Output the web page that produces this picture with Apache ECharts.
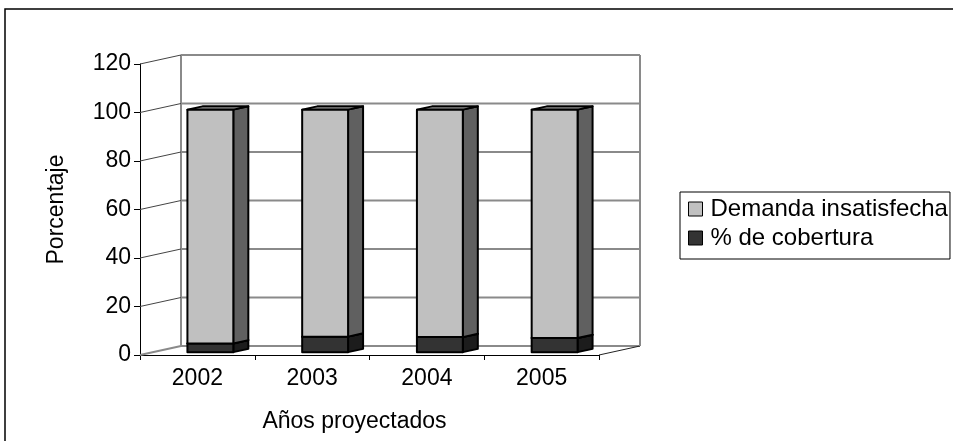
<!DOCTYPE html>
<html>
<head>
<meta charset="utf-8">
<script src="https://cdn.jsdelivr.net/npm/echarts@6/dist/echarts.min.js"></script>
<style>
html,body{margin:0;padding:0;background:#fff;}
#chart{width:953px;height:441px;}
</style>
</head>
<body>
<div id="chart"></div>
<script>
const categories = ['2002', '2003', '2004', '2005'];
const cobertura = [3.6, 6.4, 6.2, 5.8];
const demanda = [96.4, 93.6, 93.8, 94.2];
const yTicks = [0, 20, 40, 60, 80, 100, 120];

const FONT = '"Liberation Sans", Arial, sans-serif';
const DX = 41, DY = -9;           // depth offset of the back wall
const F0 = 0.317, F1 = 0.683;     // bar front/back depth fraction
const BW = 0.4;                   // bar width fraction of band

const chart = echarts.init(document.getElementById('chart'), null, {renderer: 'canvas'});

function wallItem(params, api) {
  const v = api.value(1);
  const bw = api.size([1, 0])[0];
  const p0 = api.coord([0, v]);
  const p3 = api.coord([categories.length - 1, v]);
  const left = p0[0] - bw / 2, right = p3[0] + bw / 2, y = p0[1];
  const children = [];
  children.push({type: 'line', shape: {x1: left + DX, y1: y + DY, x2: right + DX, y2: y + DY},
    style: {stroke: '#8a8a8a', lineWidth: 2}});
  children.push({type: 'line', shape: {x1: left, y1: y, x2: left + DX, y2: y + DY},
    style: {stroke: v === 0 ? '#8a8a8a' : '#444', lineWidth: v === 0 ? 2 : 1}});
  if (v === 0) {
    const top = api.coord([0, yTicks[yTicks.length - 1]])[1];
    children.push({type: 'line', shape: {x1: right, y1: y, x2: right + DX, y2: y + DY},
      style: {stroke: '#222', lineWidth: 1}});
    children.push({type: 'line', shape: {x1: left + DX, y1: y + DY, x2: left + DX, y2: top + DY},
      style: {stroke: '#8a8a8a', lineWidth: 2}});
    children.push({type: 'line', shape: {x1: right + DX, y1: y + DY, x2: right + DX, y2: top + DY},
      style: {stroke: '#8a8a8a', lineWidth: 2}});
  }
  return {type: 'group', children: children};
}

function barRenderer(front, side, topc) {
  return function (params, api) {
    const i = api.value(0);
    const lo = api.coord([i, api.value(1)]);
    const hi = api.coord([i, api.value(2)]);
    const bw = api.size([1, 0])[0];
    const w = bw * BW;
    const xl = lo[0] - w / 2 + F0 * DX, xr = xl + w;
    const yb = lo[1] + F0 * DY, yt = hi[1] + F0 * DY;
    const ddx = (F1 - F0) * DX, ddy = (F1 - F0) * DY;
    const edge = {stroke: '#000', lineWidth: 2, lineJoin: 'round'};
    return {type: 'group', children: [
      {type: 'polygon', shape: {points: [[xr, yt], [xr + ddx, yt + ddy], [xr + ddx, yb + ddy], [xr, yb]]},
        style: Object.assign({fill: side}, edge)},
      {type: 'polygon', shape: {points: [[xl, yt], [xl + ddx, yt + ddy], [xr + ddx, yt + ddy], [xr, yt]]},
        style: Object.assign({fill: topc}, edge)},
      {type: 'rect', shape: {x: xl, y: yt, width: w, height: yb - yt},
        style: Object.assign({fill: front}, edge)}
    ]};
  };
}

const coberturaData = cobertura.map((v, i) => [i, 0, v]);
const demandaData = demanda.map((v, i) => [i, cobertura[i], cobertura[i] + v]);

const option = {
  animation: false,
  backgroundColor: '#fff',
  textStyle: {fontFamily: FONT},
  graphic: [
    {type: 'rect', shape: {x: 5, y: 9, width: 1000, height: 500},
      style: {fill: 'none', stroke: '#000', lineWidth: 1.5}, z: 0}
  ],
  grid: {left: 140, top: 64, width: 459, height: 291, containLabel: false},
  legend: {
    orient: 'vertical', left: 680, top: 192,
    padding: [5, 2, 9, 8], itemGap: 5,
    itemWidth: 14, itemHeight: 14, itemStyle: {borderColor: '#000', borderWidth: 1},
    borderColor: '#000', borderWidth: 1, backgroundColor: '#fff',
    icon: 'rect',
    textStyle: {fontFamily: FONT, fontSize: 24, color: '#000', padding: [0, 0, 0, 3]},
    data: ['Demanda insatisfecha', '% de cobertura']
  },
  xAxis: {
    type: 'category', data: categories, boundaryGap: true,
    axisLine: {lineStyle: {color: '#000', width: 1}},
    axisTick: {show: true, length: 5, lineStyle: {color: '#000'}},
    axisLabel: {fontFamily: FONT, fontSize: 23, color: '#000', margin: 12},
    splitLine: {show: false},
    name: 'Años proyectados', nameLocation: 'middle', nameGap: 55,
    nameTextStyle: {fontFamily: FONT, fontSize: 23, color: '#000', padding: [0, 30, 0, 0]}
  },
  yAxis: {
    type: 'value', min: 0, max: 120, interval: 20,
    axisLine: {show: true, lineStyle: {color: '#000', width: 1}},
    axisTick: {show: true, length: 6, lineStyle: {color: '#000'}},
    axisLabel: {fontFamily: FONT, fontSize: 23, color: '#000', margin: 9},
    splitLine: {show: false},
    name: 'Porcentaje', nameLocation: 'middle', nameGap: 72,
    nameTextStyle: {fontFamily: FONT, fontSize: 23, color: '#000'}
  },
  series: [
    {type: 'custom', name: 'wall', z: 1, silent: true, data: yTicks.map(v => [0, v]),
      encode: {x: 0, y: 1}, renderItem: wallItem, legendHoverLink: false},
    {type: 'custom', name: '% de cobertura', z: 2, data: coberturaData,
      itemStyle: {color: '#333333'}, encode: {x: 0, y: [1, 2]},
      renderItem: barRenderer('#333333', '#1c1c1c', '#262626')},
    {type: 'custom', name: 'Demanda insatisfecha', z: 3, data: demandaData,
      itemStyle: {color: '#c0c0c0'}, encode: {x: 0, y: [1, 2]},
      renderItem: barRenderer('#c0c0c0', '#606060', '#8c8c8c')}
  ]
};
chart.setOption(option);
</script>
</body>
</html>
